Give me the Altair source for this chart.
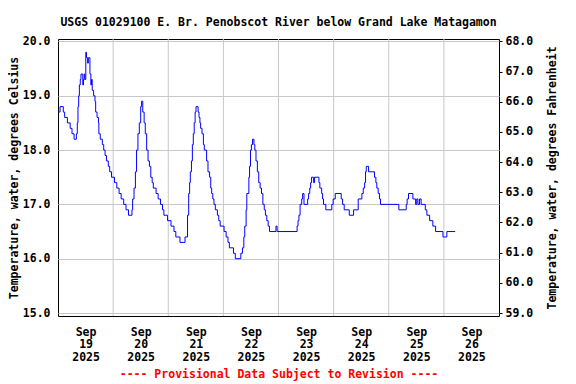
import altair as alt
import pandas as pd

# Hours since 2025-09-19 00:00 and water temperature (deg C)
HOURS = [0.0, 0.9, 2.3, 2.9, 4.1, 5.3, 6.1, 7.0, 8.0, 8.4, 8.7, 9.0, 9.3, 9.7, 10.0,
         10.8, 11.1, 11.4, 11.7, 12.1, 12.4, 12.9, 13.2, 13.9, 14.3, 14.6, 14.9, 15.5,
         16.1, 16.4, 17.0, 17.6, 17.8, 18.4, 19.3, 19.9, 20.5, 21.1, 21.9, 22.5, 23.3,
         24.6, 25.6, 26.6, 27.5, 28.6, 29.6, 30.7, 32.2, 32.5, 33.1, 33.7, 34.2, 34.8,
         35.4, 36.0, 36.4, 36.9, 37.5, 38.0, 38.6, 39.2, 39.8, 40.4, 41.0, 41.5, 42.7,
         43.6, 44.6, 45.5, 46.1, 47.7, 49.2, 50.5, 51.3, 53.1, 55.3, 56.4, 56.9, 57.3,
         57.6, 58.1, 58.5, 58.9, 59.3, 59.7, 60.1, 61.0, 61.4, 61.8, 62.1, 62.7, 63.3,
         63.7, 64.7, 65.3, 66.0, 66.5, 66.9, 67.4, 67.9, 68.5, 69.4, 70.0, 70.6, 72.3,
         73.2, 74.0, 74.6, 76.4, 77.2, 79.6, 80.3, 80.9, 81.3, 81.9, 82.2, 83.1, 83.4,
         83.8, 84.2, 84.7, 85.3, 85.7, 86.2, 86.8, 87.4, 88.0, 88.6, 89.2, 89.8, 90.3,
         90.9, 91.5, 92.1, 94.9, 95.4, 104.1, 104.5, 104.9, 105.4, 106.1, 106.5, 107.1,
         108.7, 109.1, 109.6, 110.0, 110.4, 111.3, 111.7, 113.6, 114.0, 114.8, 115.2,
         115.6, 116.6, 119.2, 119.8, 120.7, 123.3, 123.9, 124.6, 126.8, 128.7, 130.7,
         132.3, 132.9, 133.5, 133.9, 134.2, 135.2, 137.8, 138.4, 138.8, 139.4, 140.0,
         140.4, 148.4, 151.6, 152.0, 152.6, 154.5, 155.7, 156.2, 156.7, 157.4, 158.1,
         159.9, 160.6, 161.8, 163.2, 164.4, 167.6, 169.3, 172.9]
TEMP_C = [18.7, 18.8, 18.7, 18.6, 18.5, 18.4, 18.3, 18.2, 18.3, 18.5, 18.8, 19.0, 19.2, 19.3, 19.4,
          19.2, 19.3, 19.4, 19.3, 19.8, 19.7, 19.6, 19.7, 19.4, 19.2, 19.3, 19.1, 19.0,
          18.9, 18.7, 18.6, 18.5, 18.3, 18.2, 18.1, 18.0, 17.9, 17.8, 17.7, 17.6, 17.5,
          17.4, 17.3, 17.2, 17.1, 17.0, 16.9, 16.8, 16.9, 17.1, 17.3, 17.6, 18.0, 18.3,
          18.5, 18.8, 18.9, 18.7, 18.5, 18.3, 18.0, 17.8, 17.7, 17.5, 17.4, 17.3, 17.2,
          17.1, 17.0, 16.9, 16.8, 16.7, 16.6, 16.5, 16.4, 16.3, 16.4, 16.8, 17.2, 17.4,
          17.6, 17.8, 18.1, 18.3, 18.5, 18.7, 18.8, 18.7, 18.6, 18.5, 18.4, 18.3, 18.1,
          18.0, 17.8, 17.6, 17.5, 17.3, 17.2, 17.1, 17.0, 16.9, 16.8, 16.7, 16.6, 16.5,
          16.4, 16.3, 16.2, 16.1, 16.0, 16.1, 16.2, 16.4, 16.6, 16.9, 17.2, 17.5, 17.7,
          18.0, 18.1, 18.2, 18.1, 18.0, 17.8, 17.6, 17.4, 17.3, 17.2, 17.0, 16.9, 16.8,
          16.7, 16.6, 16.5, 16.6, 16.5, 16.6, 16.7, 16.8, 17.0, 17.1, 17.2, 17.0,
          17.1, 17.2, 17.3, 17.4, 17.5, 17.4, 17.5, 17.4, 17.3, 17.2, 17.1,
          17.0, 16.9, 17.0, 17.1, 17.2, 17.1, 17.0, 16.9, 16.8, 16.9, 17.1,
          17.2, 17.3, 17.4, 17.6, 17.7, 17.6, 17.5, 17.4, 17.3, 17.2, 17.1,
          17.0, 16.9, 17.0, 17.1, 17.2, 17.1, 17.0, 17.1, 17.0, 17.1, 17.0,
          16.9, 16.8, 16.7, 16.6, 16.5, 16.4, 16.5, 16.5]

DAYS = [19, 20, 21, 22, 23, 24, 25, 26]          # labelled days (label at noon)
GRID_DAYS = [20, 21, 22, 23, 24, 25, 26]         # day boundaries with vertical gridlines
C_TICKS = [15, 16, 17, 18, 19, 20]
F_TICKS = [59, 60, 61, 62, 63, 64, 65, 66, 67, 68]
TITLE = "USGS 01029100 E. Br. Penobscot River below Grand Lake Matagamon"
FOOT = "---- Provisional Data Subject to Revision ----"

base = pd.Timestamp("2025-09-19 00:00")
df = pd.DataFrame({
    "time": [base + pd.Timedelta(hours=h) for h in HOURS],
    "temp": TEMP_C,
})
grid_df = pd.DataFrame({"time": [pd.Timestamp(2025, 9, d) for d in GRID_DAYS]})

FONT = "DejaVu Sans Mono"
C_DOMAIN = [14.945, 20.045]
F_DOMAIN = [C_DOMAIN[0] * 1.8 + 32, C_DOMAIN[1] * 1.8 + 32]
GRID = "#c8c8c8"

x_scale = alt.Scale(domain=[alt.DateTime(year=2025, month=9, date=19, hours=0),
                            alt.DateTime(year=2025, month=9, date=27, hours=0)], nice=False)
x_values = [alt.DateTime(year=2025, month=9, date=d, hours=12) for d in DAYS]

x_enc = alt.X(
    "time:T",
    scale=x_scale,
    axis=alt.Axis(
        values=x_values,
        labelExpr="[timeFormat(datum.value, '%b'), timeFormat(datum.value, '%d'), timeFormat(datum.value, '%Y')]",
        ticks=False,
        domain=False,
        grid=False,
        labelAngle=0,
        labelAlign="center",
        labelBaseline="top",
        labelPadding=10,
        labelLineHeight=12.7,
        labelOverlap=False,
        labelFlush=False,
        title=FOOT,
        titleColor="#ff0000",
        titlePadding=6,
    ),
)

vgrid = alt.Chart(grid_df).mark_rule(color=GRID, strokeWidth=1).encode(
    x=alt.X("time:T", scale=x_scale),
)

line = alt.Chart(df).mark_line(color="#0000ff", strokeWidth=1, interpolate="step-after").encode(
    x=x_enc,
    y=alt.Y("temp:Q",
            scale=alt.Scale(domain=C_DOMAIN, nice=False, zero=False),
            axis=alt.Axis(values=C_TICKS, format=".1f", ticks=False, domain=False,
                          grid=True, gridColor=GRID, labelPadding=8,
                          title="Temperature, water, degrees Celsius", titlePadding=3)),
)

fahr = alt.Chart(df).transform_calculate(
    tempF="datum.temp * 1.8 + 32"
).mark_line(opacity=0, interpolate="step-after").encode(
    x=alt.X("time:T"),
    y=alt.Y("tempF:Q",
            scale=alt.Scale(domain=F_DOMAIN, nice=False, zero=False),
            axis=alt.Axis(orient="right", values=F_TICKS, format=".1f", ticks=True,
                          tickSize=3, tickColor="black", domain=False, grid=False,
                          labelPadding=3, title="Temperature, water, degrees Fahrenheit",
                          titleAngle=270, titleBaseline="top", titlePadding=14)),
)

chart = alt.layer(vgrid, line, fahr).resolve_scale(y="independent").properties(
    width=441,
    height=277,
    padding={"left": 0, "top": 8, "right": 0, "bottom": 0},
    title=alt.TitleParams(text=TITLE, font=FONT, fontSize=11.5, fontWeight="bold",
                          anchor="middle", frame="group", offset=7, color="black"),
).configure_axis(
    labelFont=FONT, titleFont=FONT, labelFontSize=11.5, titleFontSize=11.5,
    labelFontWeight="bold", titleFontWeight="bold", labelColor="black", titleColor="black",
).configure_view(stroke="black", strokeWidth=1)

chart.save("out.html", embed_options={"renderer": "svg", "actions": False})
